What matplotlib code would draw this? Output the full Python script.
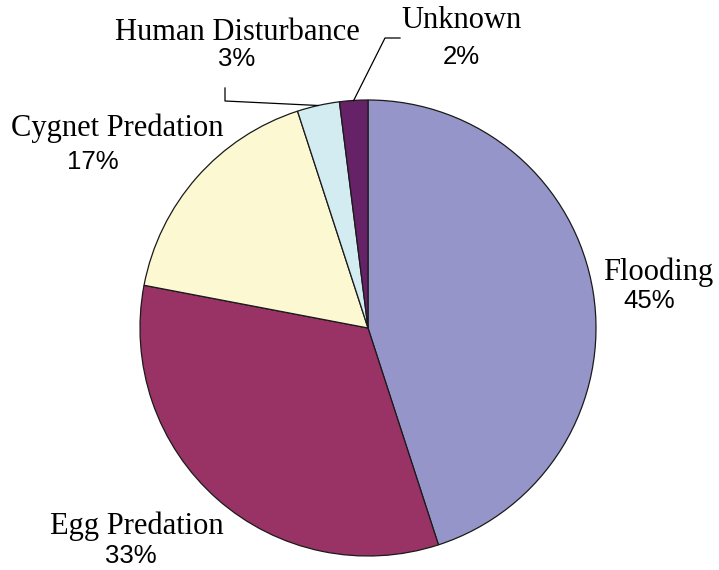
import numpy as np
import matplotlib.pyplot as plt

causes = ['Flooding', 'Egg Predation', 'Cygnet Predation', 'Human Disturbance', 'Unknown']
shares = [45, 33, 17, 3, 2]
colors = ['#9595c9', '#993366', '#fbf8d2', '#d2ecf1', '#662266']

W, H = 719, 570
cx, cy, r = 368, 328, 228

fig = plt.figure(figsize=(W / 100, H / 100), dpi=100)
ax = fig.add_axes([0, 0, 1, 1])

def py(y):
    # picture rows run downwards
    return H - y

wedges, _ = ax.pie(shares, colors=colors, startangle=90, counterclock=False,
                   center=(cx, py(cy)), radius=r, frame=True,
                   wedgeprops=dict(edgecolor='#1a1a1a', linewidth=0.9))
ax.set_xlim(0, W)
ax.set_ylim(0, H)
ax.set_aspect('equal')
ax.axis('off')

serif = 'Liberation Serif'
sans = 'Liberation Sans'

# label name position, percent position (picture pixels)
name_pos = [(658, 272), (137, 526), (117, 128), (237, 33), (462, 20)]
pct_pos = [(649, 301), (131, 556), (93, 162), (237, 59), (461, 57)]

for name, v, (nx, ny), (px_, py_) in zip(causes, shares, name_pos, pct_pos):
    ax.text(nx, py(ny), name, family=serif, fontsize=22, ha='center', va='center')
    ax.text(px_, py(py_), f'{v}%', family=sans, fontsize=18.5, ha='center', va='center')

# leader lines for the two small slices
cum = np.cumsum([0] + shares)
mid = {causes[i]: (cum[i] + cum[i + 1]) / 2 / 100 * 2 * np.pi for i in range(len(causes))}

def edge_point(name):
    a = mid[name]
    return cx + r * np.sin(a), cy - r * np.cos(a)

ex, ey = edge_point('Human Disturbance')
ax.plot([225, 225, ex], [py(88), py(101), py(ey)], color='black', lw=0.9)
ex, ey = edge_point('Unknown')
ax.plot([400, 385, ex], [py(38), py(38), py(ey)], color='black', lw=0.9)

fig.savefig('out.png', dpi=100)
